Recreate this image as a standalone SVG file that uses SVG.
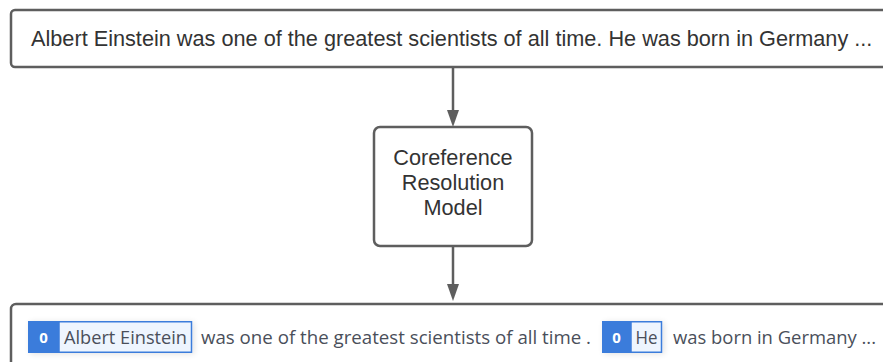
<svg xmlns="http://www.w3.org/2000/svg" width="883" height="362" viewBox="0 0 883 362">
<style>
.box{fill:#ffffff;stroke:#5e5e5e;stroke-width:2.5}
.t{font-family:"Liberation Sans",Arial,sans-serif;font-size:21.7px;fill:#333333}
.c{text-anchor:middle}
.conn{stroke:#5e5e5e;stroke-width:2.5;fill:none}
.bt{font-family:"Open Sans","DejaVu Sans",sans-serif;font-size:18.5px;fill:#4a4f5a}
.badge{fill:#3b7cdb}
.lab{fill:#eef5fe;stroke:#3b7cdb;stroke-width:1.5}
.num{font-family:"Open Sans","DejaVu Sans",sans-serif;font-size:15px;font-weight:bold;fill:#ffffff;text-anchor:middle}
</style>
<defs>
<filter id="sh" x="-10%" y="-20%" width="130%" height="160%">
<feGaussianBlur in="SourceAlpha" stdDeviation="3"/>
<feOffset dx="2" dy="1"/>
<feComponentTransfer><feFuncA type="linear" slope="0.12"/></feComponentTransfer>
<feMerge><feMergeNode/><feMergeNode in="SourceGraphic"/></feMerge>
</filter>
</defs>
<g id="connectors">
<path class="conn" d="M453,68 V111" />
<path d="M447,110 L459,110 L453,127 Z" fill="#5e5e5e"/>
<path class="conn" d="M453,247 V285" />
<path d="M447,284 L459,284 L453,301 Z" fill="#5e5e5e"/>
</g>
<g id="input">
<rect class="box" x="11" y="10" width="890" height="57" rx="4"/>
<text class="t" x="31" y="45.5">Albert Einstein was one of the greatest scientists of all time. He was born in Germany ...</text>
</g>
<g id="model">
<rect class="box" x="374" y="127" width="158" height="119" rx="6"/>
<text class="t c" x="453" y="165">Coreference</text>
<text class="t c" x="453" y="190">Resolution</text>
<text class="t c" x="453" y="215">Model</text>
</g>
<g id="output">
<rect class="box" x="11" y="304" width="890" height="80" rx="5"/>
<g filter="url(#sh)">
<rect class="badge" x="28" y="321" width="31" height="32"/>
<rect class="lab" x="59" y="321.75" width="132.5" height="30.5"/>
</g>
<text class="num" x="43.5" y="342.5">0</text>
<text class="bt" x="64" y="344" textLength="123" lengthAdjust="spacingAndGlyphs">Albert Einstein</text>
<text class="bt" x="201" y="344" textLength="390" lengthAdjust="spacingAndGlyphs">was one of the greatest scientists of all time .</text>
<g filter="url(#sh)">
<rect class="badge" x="602" y="321" width="29" height="32"/>
<rect class="lab" x="631" y="321.75" width="30.5" height="30.5"/>
</g>
<text class="num" x="616.5" y="342.5">0</text>
<text class="bt" x="635.5" y="344" textLength="22" lengthAdjust="spacingAndGlyphs">He</text>
<text class="bt" x="673" y="344" textLength="203" lengthAdjust="spacingAndGlyphs">was born in Germany ...</text>
</g>
</svg>
